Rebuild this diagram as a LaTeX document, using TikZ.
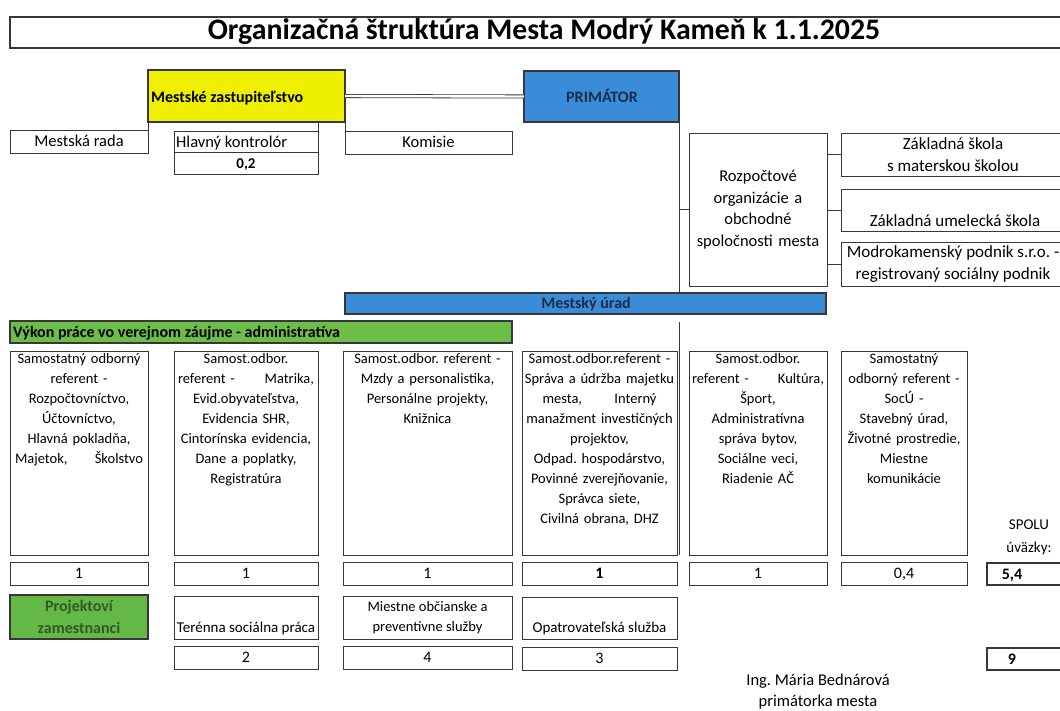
\documentclass[tikz,border=0pt]{standalone}
\usepackage{fontspec}
\setmainfont{Carlito}
\frenchspacing
\definecolor{lc}{RGB}{55,55,55}
\definecolor{zyel}{RGB}{238,240,0}
\definecolor{zblue}{RGB}{58,140,216}
\definecolor{zgreen}{RGB}{108,190,72}
\definecolor{pgreen}{RGB}{100,184,70}
\definecolor{darktx}{RGB}{28,45,75}
\definecolor{greentx}{RGB}{50,90,40}
\begin{document}
\begin{tikzpicture}[x=1pt,y=-1pt,
  box/.style={draw=lc,line width=1pt,inner sep=0pt,outer sep=0pt,anchor=north west},
  heavy/.style={line width=1.5pt},
  conn/.style={draw=lc,line width=1pt},
  coltx/.style={inner sep=0pt,anchor=north,align=center,font=\fontsize{14.5}{20}\selectfont},
  toptx/.style={inner sep=0pt,text height=10.5pt,text depth=0pt,font=\fontsize{16.5}{20}\selectfont},
  numtx/.style={inner sep=0pt,text height=10pt,text depth=0pt,font=\fontsize{16}{20}\selectfont},
  boldtx/.style={inner sep=0pt,text height=10pt,text depth=0pt,font=\bfseries\fontsize{16}{20}\selectfont},
  righttx/.style={align=center,font=\fontsize{17}{21.5}\selectfont},
  bottx/.style={inner sep=0pt,align=center,font=\fontsize{15}{20}\selectfont}]
\clip (0,0) rectangle (1060,710);
\fill[white] (0,0) rectangle (1060,710);

% title
\node[box,line width=1.8pt,minimum width=1070pt,minimum height=31pt] (title) at (10,17) {};
\node[inner sep=0pt,font=\bfseries\fontsize{29.8}{30}\selectfont] (titletx) at (544,32) {Organizačná štruktúra Mesta Modrý Kameň k 1.1.2025};

% top row
\node[box,heavy,fill=zyel,minimum width=197pt,minimum height=52pt] (zast) at (148,70) {};
\node[boldtx,anchor=west] (zasttx) at (151,97) {Mestské zastupiteľstvo};
\node[box,heavy,fill=zblue,minimum width=155pt,minimum height=51pt] (prim) at (524,71) {};
\node[boldtx,text=darktx] (primtx) at (602,97) {PRIMÁTOR};
\draw[draw=lc,line width=0.8pt,double=white,double distance=2.4pt] (zast.east) -- (prim.west);

\node[box,minimum width=138pt,minimum height=23pt] (rada) at (10,130) {};
\node[toptx] (radatx) at (rada.center) {Mestská rada};
\node[box,minimum width=144pt,minimum height=21pt] (kontr) at (174,131) {};
\node[toptx,anchor=west] (kontrtx) at (176,142) {Hlavný kontrolór};
\node[box,minimum width=144pt,minimum height=22pt] (kontrn) at (174,152) {};
\node[boldtx,font=\bfseries\fontsize{15}{20}\selectfont] (kontrntx) at (kontrn.center) {0,2};
\node[box,minimum width=167pt,minimum height=23pt] (kom) at (345,131) {};
\node[toptx] (komtx) at (kom.center) {Komisie};

\draw[conn] (zast.south west) -- (rada.north east);
\draw[conn] (kontr.north east |- zast.south) -- (kontr.north east);
\draw[conn] (zast.south east) -- (kom.north west);

% right part
\node[box,minimum width=138pt,minimum height=153pt,text width=130pt,align=center,font=\fontsize{16.5}{21.5}\selectfont] (rozp) at (689,133) {Rozpočtové\\organizácie a\\obchodné\\spoločnosti mesta};
\node[box,minimum width=230pt,minimum height=43pt] (zs) at (841,133) {};
\node[righttx] (zstx) at (953,154.5) {Základná škola\\s materskou školou};
\node[box,minimum width=230pt,minimum height=42pt] (zus) at (841,189) {};
\node[righttx,inner sep=0pt] (zustx) at (955,221) {Základná umelecká škola};
\node[box,minimum width=230pt,minimum height=44pt] (mp) at (841,242) {};
\node[righttx] (mptx) at (953,264) {Modrokamenský podnik s.r.o. -\\registrovaný sociálny podnik};

\node[box,heavy,fill=zblue,minimum width=481pt,minimum height=21pt] (urad) at (345,293) {};
\node[boldtx,text=darktx] (uradtx) at (586,303.5) {Mestský úrad};

\draw[conn] (prim.south east) -- (prim.south east |- urad.north);
\draw[conn] (prim.south east |- rozp.west) -- (rozp.west);
\draw[conn] (rozp.east |- zs.west) -- (zs.west);
\draw[conn] (rozp.east |- zus.west) -- (zus.west);
\draw[conn] (rozp.east |- mp.west) -- (mp.west);

\node[box,line width=1.2pt,fill=zgreen,minimum width=502pt,minimum height=22pt] (vykon) at (10,321) {};
\node[boldtx,anchor=west] (vykontx) at (13,332) {Výkon práce vo verejnom záujme - administratíva};

% columns
\node[box,minimum width=138pt,minimum height=204pt] (c1) at (10,351) {};
\node[box,minimum width=144pt,minimum height=204pt] (c2) at (174,351) {};
\node[box,minimum width=169pt,minimum height=204pt] (c3) at (343,351) {};
\node[box,minimum width=155pt,minimum height=204pt] (c4) at (522,351) {};
\node[box,minimum width=138pt,minimum height=204pt] (c5) at (689,351) {};
\node[box,minimum width=126pt,minimum height=204pt] (c6) at (841,351) {};

\coordinate (vtop) at (679,322);
\coordinate (vbot) at (679,555);
\draw[conn] (vtop) -- (vbot);

\node[coltx,text width=136pt] (c1tx) at ([yshift=-2pt]c1.north) {Samostatný odborný\\referent -\\Rozpočtovníctvo,\\Účtovníctvo,\\Hlavná pokladňa,\\\makebox[128pt]{Majetok,\hfill Školstvo}};
\node[coltx,text width=142pt] (c2tx) at ([yshift=-2pt]c2.north) {Samost.odbor.\\\makebox[136pt]{referent -\hfill Matrika,}\\Evid.obyvateľstva,\\Evidencia SHR,\\Cintorínska evidencia,\\Dane a poplatky,\\Registratúra};
\node[coltx,text width=166pt] (c3tx) at ([yshift=-2pt]c3.north) {Samost.odbor. referent -\\Mzdy a personalistika,\\Personálne projekty,\\Knižnica};
\node[coltx,text width=155pt] (c4tx) at ([yshift=-2pt]c4.north) {Samost.odbor.referent -\\Správa a údržba majetku\\\makebox[114pt]{mesta,\hfill Interný}\\manažment investičných\\projektov,\\Odpad. hospodárstvo,\\Povinné zverejňovanie,\\Správca siete,\\Civilná obrana, DHZ};
\node[coltx,text width=136pt] (c5tx) at ([yshift=-2pt]c5.north) {Samost.odbor.\\\makebox[132pt]{referent -\hfill Kultúra,}\\Šport,\\Administratívna\\správa bytov,\\Sociálne veci,\\Riadenie AČ};
\node[coltx,text width=124pt] (c6tx) at ([yshift=-2pt]c6.north) {Samostatný\\odborný referent -\\SocÚ -\\Stavebný úrad,\\Životné prostredie,\\Miestne\\komunikácie};

% numbers
\node[box,minimum width=138pt,minimum height=23pt] (n1) at (10,562) {};
\node[box,minimum width=144pt,minimum height=23pt] (n2) at (174,562) {};
\node[box,minimum width=169pt,minimum height=23pt] (n3) at (343,562) {};
\node[box,minimum width=155pt,minimum height=23pt] (n4) at (522,562) {};
\node[box,minimum width=138pt,minimum height=23pt] (n5) at (689,562) {};
\node[box,minimum width=126pt,minimum height=23pt] (n6) at (841,562) {};
\node[numtx] (n1tx) at (n1.center) {1};
\node[numtx] (n2tx) at (n2.center) {1};
\node[numtx] (n3tx) at (n3.center) {1};
\node[boldtx] (n4tx) at (n4.center) {1};
\node[numtx] (n5tx) at (n5.center) {1};
\node[numtx] (n6tx) at (n6.center) {0,4};

\node[bottx] (spolu) at (1029,525) {SPOLU};
\node[bottx] (uvazky) at (1029,548) {úväzky:};
\node[box,line width=2pt,minimum width=80pt,minimum height=22pt] (tot) at (987,563) {};
\node[boldtx] (tottx) at (1012,574) {5,4};

% project employees
\node[box,line width=1.2pt,fill=pgreen,minimum width=138pt,minimum height=44pt,text width=130pt,align=center,text=greentx,font=\bfseries\fontsize{16}{21.5}\selectfont] (proj) at (10,595) {Projektoví\\zamestnanci};
\node[box,minimum width=144pt,minimum height=43pt] (ter) at (174,596) {};
\node[bottx] (tertx) at (246,628) {Terénna sociálna práca};
\node[box,minimum width=169pt,minimum height=43pt] (mie) at (343,596) {};
\node[bottx,font=\fontsize{14.5}{20}\selectfont] (mietx) at (427.5,618) {Miestne občianske a\\preventívne služby};
\node[box,minimum width=155pt,minimum height=42pt] (opa) at (522,597) {};
\node[bottx] (opatx) at (599.5,628) {Opatrovateľská služba};

\node[box,minimum width=144pt,minimum height=23pt] (m2) at (174,646) {};
\node[box,minimum width=169pt,minimum height=23pt] (m3) at (343,646) {};
\node[box,minimum width=155pt,minimum height=23pt] (m4) at (522,647) {};
\node[numtx] (m2tx) at (m2.center) {2};
\node[numtx] (m3tx) at (m3.center) {4};
\node[numtx] (m4tx) at (m4.center) {3};
\node[box,line width=2pt,minimum width=80pt,minimum height=22pt] (tot2) at (987,648) {};
\node[boldtx] (tot2tx) at (1012,659) {9};

% signature
\node[inner sep=0pt,align=center,font=\fontsize{16.5}{21}\selectfont] (sig) at (818,692) {Ing. Mária Bednárová\\primátorka mesta};
\end{tikzpicture}
\end{document}
